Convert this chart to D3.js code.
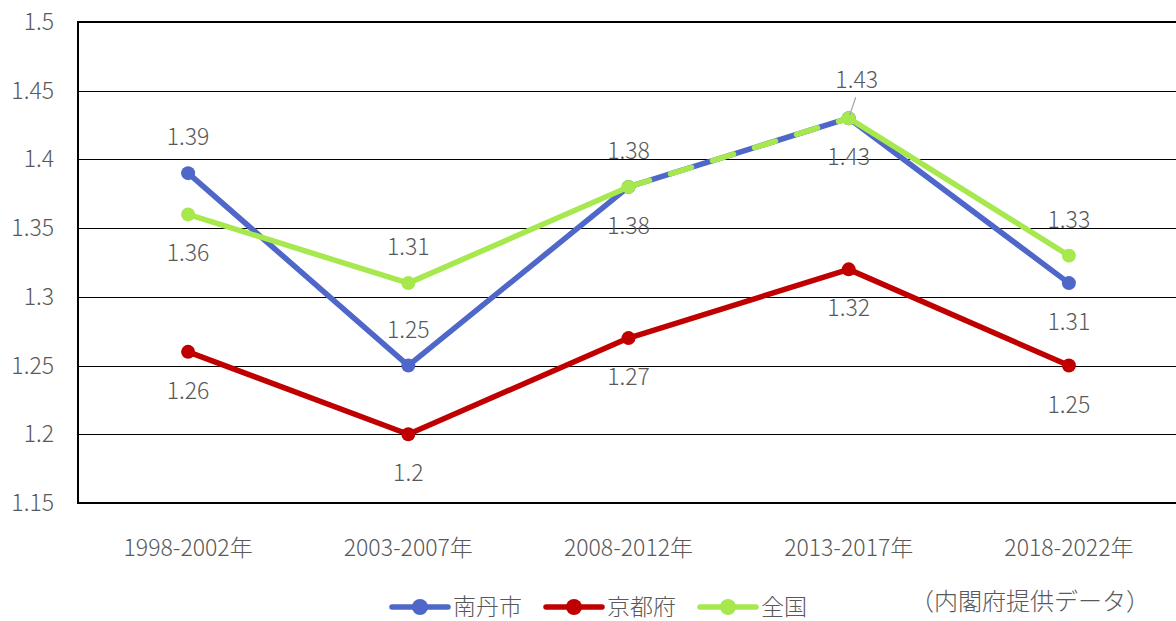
<!DOCTYPE html>
<html>
<head>
<meta charset="utf-8">
<script src="https://cdn.jsdelivr.net/npm/d3@7"></script>
<style>
  body { margin: 0; background: #fff; }
  text { font-family: "Noto Sans CJK JP", "Noto Sans", sans-serif; fill: #595959; font-weight: 300; }
</style>
</head>
<body>
<div id="chart"></div>
<script>
var categories = ["1998-2002年", "2003-2007年", "2008-2012年", "2013-2017年", "2018-2022年"];
var nantan = [1.39, 1.25, 1.38, 1.43, 1.31];
var kyoto = [1.26, 1.20, 1.27, 1.32, 1.25];
var zenkoku = [1.36, 1.31, 1.38, 1.43, 1.33];
var yTicks = [1.15, 1.2, 1.25, 1.3, 1.35, 1.4, 1.45, 1.5];

var series = [
  { name: "南丹市", values: nantan, color: "#4E67C8", pos: ["up", "up", "down", "down", "down"] },
  { name: "京都府", values: kyoto, color: "#C00000", pos: ["down", "down", "down", "down", "down"] },
  { name: "全国", values: zenkoku, color: "#A6E84E", pos: ["down", "up", "up", "lead", "up"] }
];

var width = 1176, height = 621;
var fs = "23px";
var svg = d3.select("#chart").append("svg")
  .attr("width", width)
  .attr("height", height);

var x = d3.scalePoint()
  .domain(categories)
  .range([78, 1179])
  .padding(0.5);
var y = d3.scaleLinear()
  .domain([1.15, 1.5])
  .range([503, 22]);

// gridlines
svg.append("g")
  .selectAll("line")
  .data(yTicks)
  .enter()
  .append("line")
  .attr("x1", 78)
  .attr("x2", width)
  .attr("y1", function (d) { return Math.round(y(d)) + 0.5; })
  .attr("y2", function (d) { return Math.round(y(d)) + 0.5; })
  .attr("stroke", "#000")
  .attr("stroke-width", 1.2);

// plot border (left, top, bottom)
svg.append("path")
  .attr("d", "M" + width + "," + y(1.5) + "H78V" + y(1.15) + "H" + width)
  .attr("fill", "none")
  .attr("stroke", "#000")
  .attr("stroke-width", 2);

// y labels
svg.append("g")
  .selectAll("text")
  .data(yTicks)
  .enter()
  .append("text")
  .attr("x", 54)
  .attr("y", function (d) { return y(d); })
  .attr("dy", "0.35em")
  .attr("text-anchor", "end")
  .attr("font-size", fs)
  .text(function (d) { return d3.format("")(d); });

// x labels
svg.append("g")
  .selectAll("text")
  .data(categories)
  .enter()
  .append("text")
  .attr("x", function (d) { return x(d); })
  .attr("y", 548)
  .attr("dy", "0.35em")
  .attr("text-anchor", "middle")
  .attr("font-size", fs)
  .text(function (d) { return d; });

var line = d3.line()
  .y(function (d) { return y(d); });

series.forEach(function (s, si) {
  var g = svg.append("g");
  // segments, dashed where overlapping an earlier series
  for (var i = 0; i < s.values.length - 1; i++) {
    var overlap = false;
    for (var k = 0; k < si; k++) {
      if (series[k].values[i] === s.values[i] && series[k].values[i + 1] === s.values[i + 1]) overlap = true;
    }
    var i0 = i;
    g.append("path")
      .attr("d", line.x(function (d, j) { return x(categories[i0 + j]); })([s.values[i], s.values[i + 1]]))
      .attr("fill", "none")
      .attr("stroke", s.color)
      .attr("stroke-width", 5.5)
      .attr("stroke-linecap", "round")
      .attr("stroke-dasharray", overlap ? "22,22" : null);
  }
  g.selectAll("circle")
    .data(s.values)
    .enter()
    .append("circle")
    .attr("cx", function (d, i) { return x(categories[i]); })
    .attr("cy", function (d) { return y(d); })
    .attr("r", 7)
    .attr("fill", s.color);
});

// data labels
series.forEach(function (s) {
  s.values.forEach(function (v, i) {
    var cx = x(categories[i]), cy = y(v);
    var p = s.pos[i];
    var ty = p === "down" ? cy + 39 : cy - 36;
    var tx = cx;
    if (p === "lead") {
      tx = cx + 8;
      ty = cy - 38;
      svg.append("line")
        .attr("x1", cx + 1).attr("y1", cy - 3)
        .attr("x2", cx + 7).attr("y2", cy - 21)
        .attr("stroke", "#A6A6A6")
        .attr("stroke-width", 1.2);
    }
    svg.append("text")
      .attr("x", tx)
      .attr("y", ty)
      .attr("dy", "0.35em")
      .attr("text-anchor", "middle")
      .attr("font-size", fs)
      .text(d3.format("")(v));
  });
});

// legend
var legendX = [392, 546, 700];
var legend = svg.append("g");
series.forEach(function (s, i) {
  var lg = legend.append("g").attr("transform", "translate(" + legendX[i] + ",607)");
  lg.append("line")
    .attr("x1", 0).attr("x2", 56)
    .attr("stroke", s.color)
    .attr("stroke-width", 5.5)
    .attr("stroke-linecap", "round");
  lg.append("circle")
    .attr("cx", 28)
    .attr("r", 8)
    .attr("fill", s.color);
  lg.append("text")
    .attr("x", 61)
    .attr("dy", "0.35em")
    .attr("font-size", fs)
    .text(s.name);
});

svg.append("text")
  .attr("x", 1150)
  .attr("y", 602)
  .attr("dy", "0.35em")
  .attr("text-anchor", "end")
  .attr("font-size", "24px")
  .text("（内閣府提供データ）");
</script>
</body>
</html>
